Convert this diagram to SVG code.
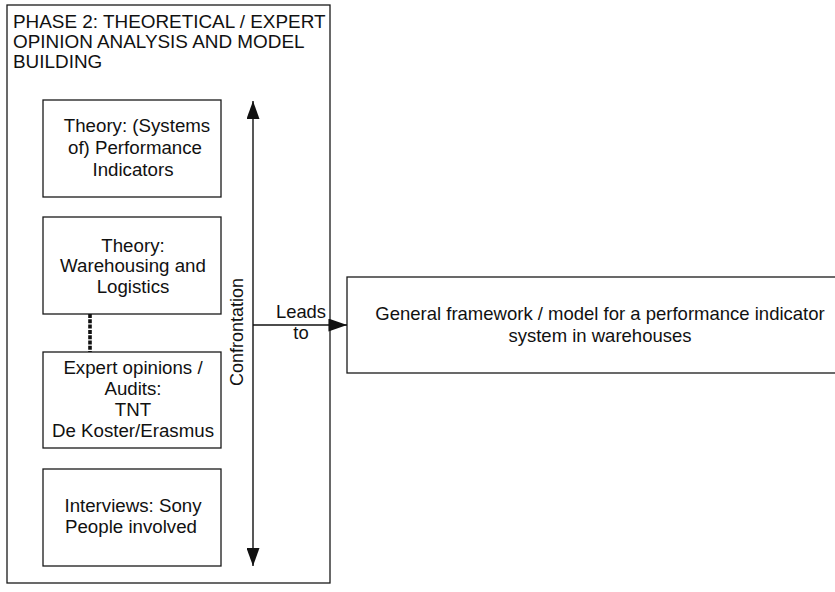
<svg xmlns="http://www.w3.org/2000/svg" width="835" height="592" viewBox="0 0 835 592">
  <defs>
    <style>
      .box { fill: #ffffff; stroke: #1a1a1a; stroke-width: 1.3; }
      .txt { font-family: "Liberation Sans", Arial, sans-serif; font-size: 18.7px; fill: #111111; }
      .mid { text-anchor: middle; }
      .line { stroke: #111111; stroke-width: 1.4; fill: none; }
    </style>
    <marker id="head" viewBox="0 0 20 14" refX="20" refY="7" markerWidth="19" markerHeight="13" markerUnits="userSpaceOnUse" orient="auto">
      <path d="M0,0 L20,7 L0,14 Z" fill="#111111"/>
    </marker>
    <marker id="headV" viewBox="0 0 18 13" refX="18" refY="6.5" markerWidth="18" markerHeight="13" markerUnits="userSpaceOnUse" orient="auto">
      <path d="M0,0 L18,6.5 L0,13 Z" fill="#111111"/>
    </marker>
  </defs>

  <rect width="835" height="592" fill="#ffffff"/>

  <!-- Phase 2 container -->
  <g id="phase2">
    <rect class="box" x="7" y="5" width="323" height="578"/>
    <text class="txt" x="13" y="28" style="font-size:18.9px">PHASE 2: THEORETICAL / EXPERT</text>
    <text class="txt" x="13" y="48" style="font-size:18.9px">OPINION ANALYSIS AND MODEL</text>
    <text class="txt" x="13" y="68" style="font-size:18.9px">BUILDING</text>
  </g>

  <g id="theory-pi">
    <rect class="box" x="43" y="100" width="178" height="97"/>
    <text class="txt mid" x="137" y="132">Theory: (Systems</text>
    <text class="txt mid" x="135" y="154">of) Performance</text>
    <text class="txt mid" x="133" y="176">Indicators</text>
  </g>

  <g id="theory-warehousing">
    <rect class="box" x="43" y="217" width="178" height="97"/>
    <text class="txt mid" x="133" y="252">Theory:</text>
    <text class="txt mid" x="133" y="272">Warehousing and</text>
    <text class="txt mid" x="133" y="293">Logistics</text>
  </g>

  <g id="expert-opinions">
    <rect class="box" x="43" y="352" width="178" height="96"/>
    <text class="txt mid" x="133" y="374">Expert opinions /</text>
    <text class="txt mid" x="133" y="395">Audits:</text>
    <text class="txt mid" x="133" y="416">TNT</text>
    <text class="txt mid" x="133" y="437">De Koster/Erasmus</text>
  </g>

  <g id="interviews">
    <rect class="box" x="43" y="469" width="178" height="97"/>
    <text class="txt mid" x="133" y="512">Interviews: Sony</text>
    <text class="txt mid" x="131" y="533">People involved</text>
  </g>

  <g id="framework">
    <rect class="box" x="347" y="277" width="520" height="96"/>
    <text class="txt mid" x="600" y="320" style="font-size:18.5px">General framework / model for a performance indicator</text>
    <text class="txt mid" x="600" y="342" style="font-size:18.5px">system in warehouses</text>
  </g>

  <!-- Connectors -->
  <g id="connectors">
    <line x1="90" y1="314" x2="90" y2="352" stroke="#111111" stroke-width="3.6" stroke-dasharray="4 1.3"/>
    <line class="line" x1="253" y1="330" x2="253" y2="101" marker-end="url(#headV)"/>
    <line class="line" x1="253" y1="330" x2="253" y2="566" marker-end="url(#headV)"/>
    <text class="txt mid" transform="translate(243 332) rotate(-90)" style="font-size:18px">Confrontation</text>
    <line class="line" x1="253" y1="325" x2="347" y2="325" marker-end="url(#head)"/>
    <text class="txt mid" x="301" y="318" style="font-size:18.4px">Leads</text>
    <text class="txt mid" x="301" y="339" style="font-size:18.4px">to</text>
  </g>
</svg>
